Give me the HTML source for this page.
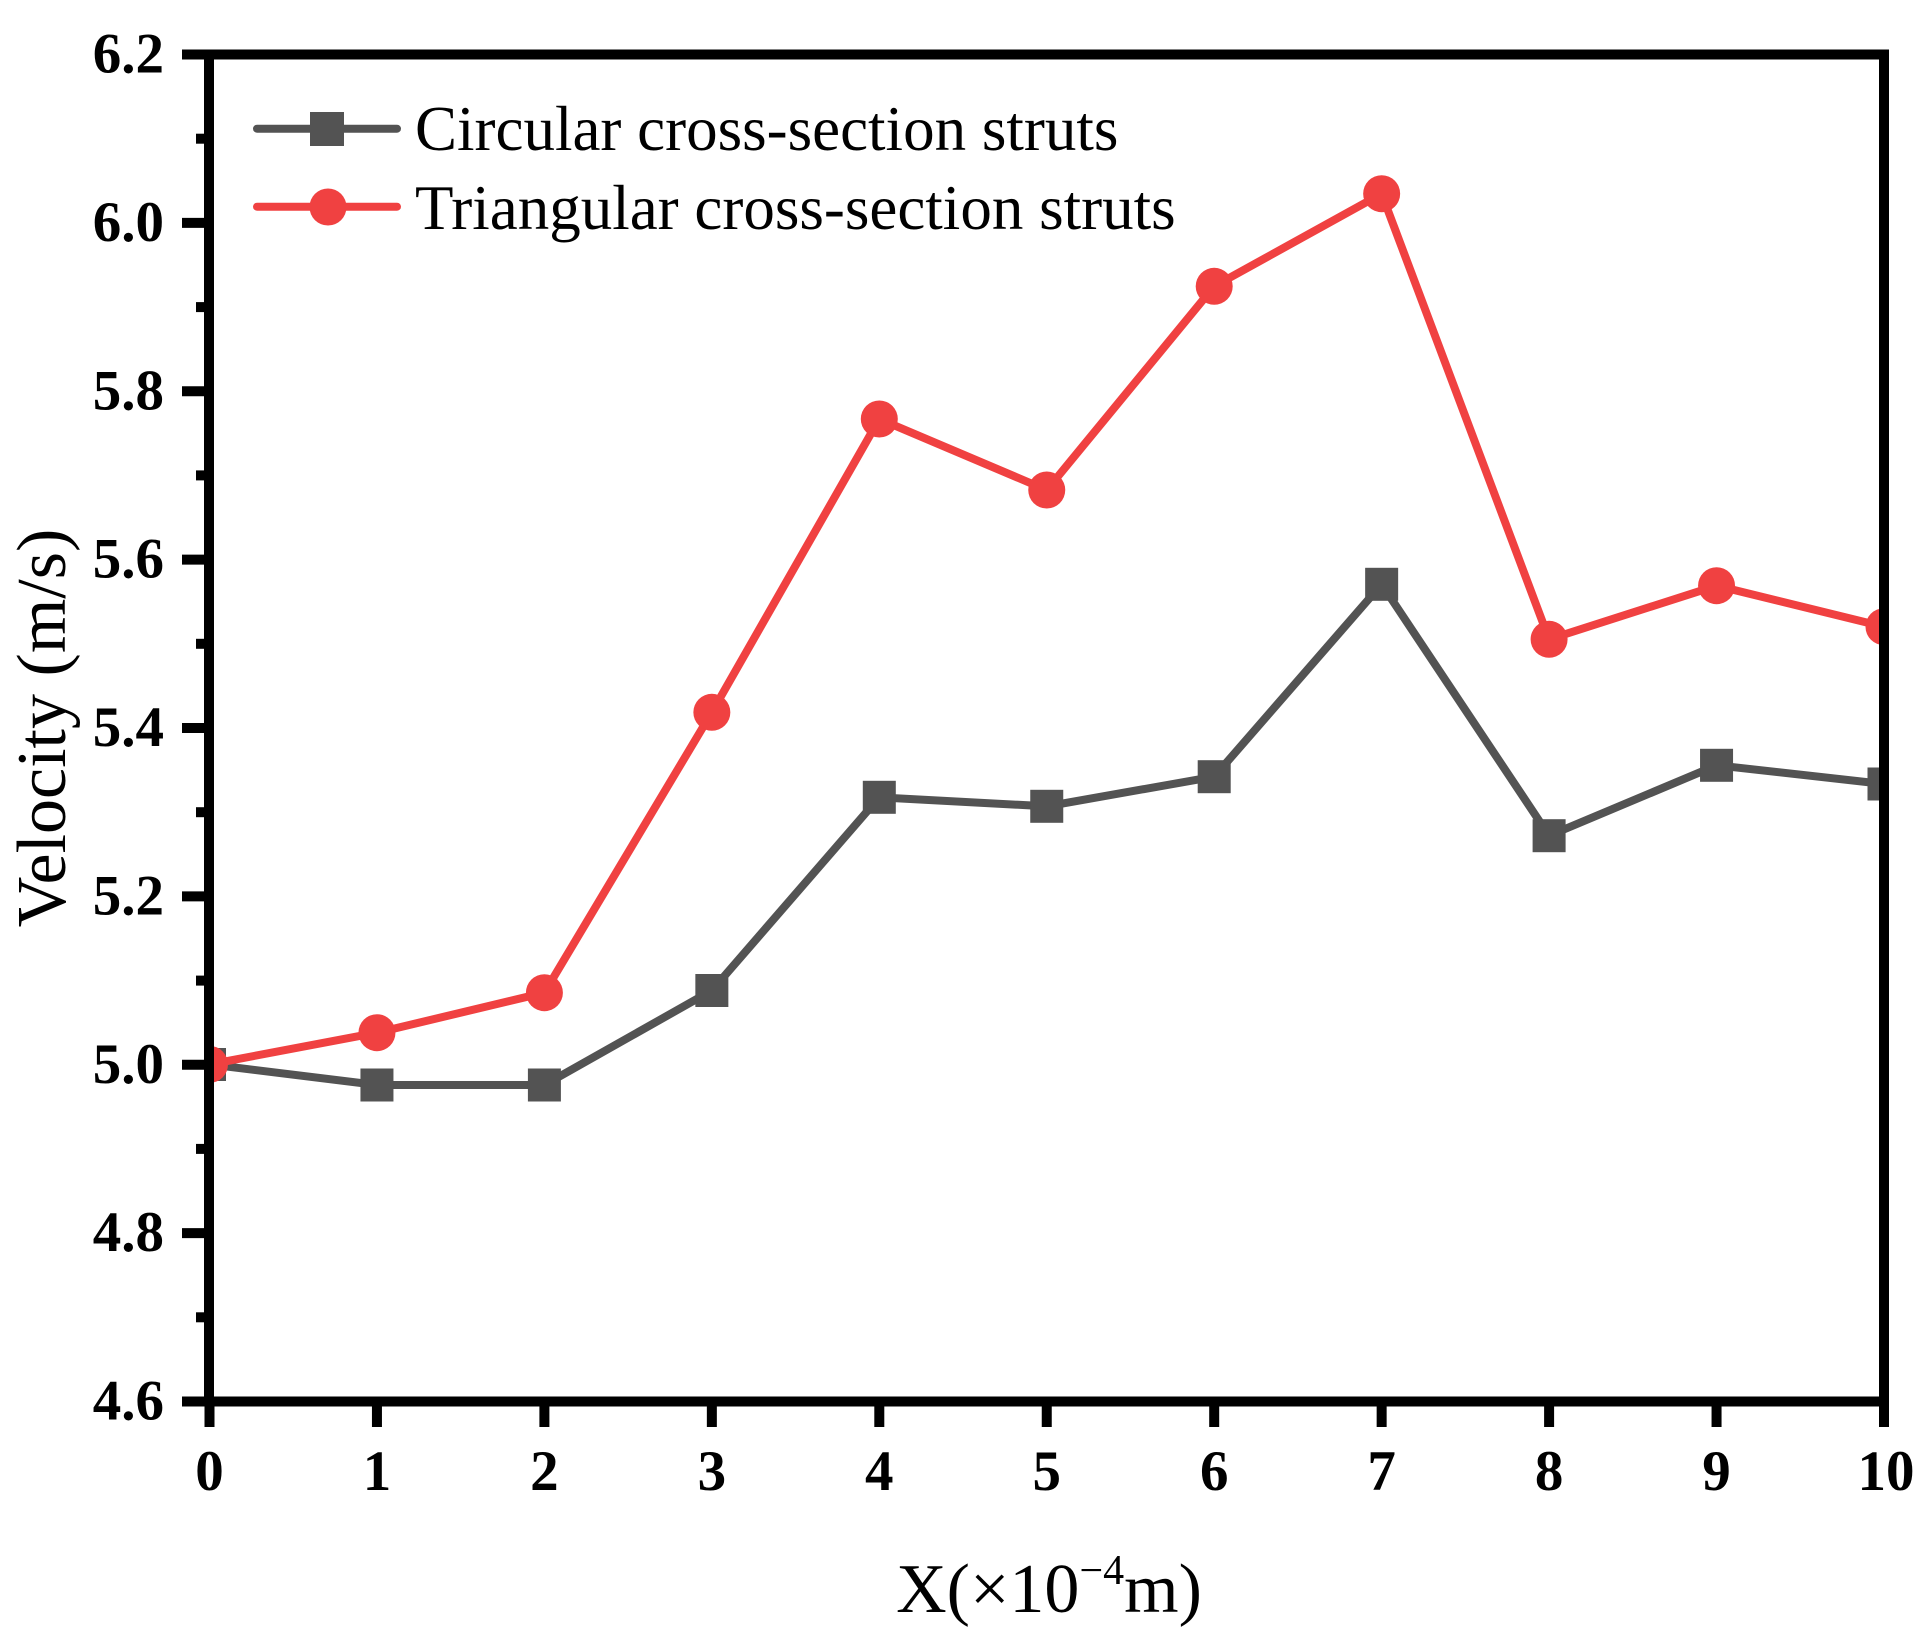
<!DOCTYPE html>
<html>
<head>
<meta charset="utf-8">
<style>
  html, body { margin: 0; padding: 0; background: #ffffff; }
  svg { display: block; }
  text { font-family: "Liberation Serif", "Times New Roman", serif; fill: #000; }
  .tick { font-weight: bold; font-size: 57px; }
</style>
</head>
<body>
<svg width="1930" height="1642" viewBox="0 0 1930 1642" xmlns="http://www.w3.org/2000/svg">
  <rect x="0" y="0" width="1930" height="1642" fill="#ffffff"/>
  <defs>
    <clipPath id="plot">
      <rect x="209" y="54.5" width="1675" height="1347"/>
    </clipPath>
  </defs>

  <!-- Data series -->
  <g clip-path="url(#plot)">
    <!-- Circular (gray squares) -->
    <polyline fill="none" stroke="#535353" stroke-width="8" stroke-linejoin="miter"
      points="209.5,1064.4 376.95,1085 544.4,1085 711.85,990.5 879.3,797.3 1046.75,806.3 1214.2,776.7 1381.65,584.3 1549.1,835.7 1716.55,765.3 1884,784"/>
    <g fill="#535353">
      <rect x="193" y="1048" width="33" height="33"/>
      <rect x="360.45" y="1068.5" width="33" height="33"/>
      <rect x="527.9" y="1068.5" width="33" height="33"/>
      <rect x="695.35" y="974" width="33" height="33"/>
      <rect x="862.8" y="780.8" width="33" height="33"/>
      <rect x="1030.25" y="789.8" width="33" height="33"/>
      <rect x="1197.7" y="760.2" width="33" height="33"/>
      <rect x="1365.15" y="567.8" width="33" height="33"/>
      <rect x="1532.6" y="819.2" width="33" height="33"/>
      <rect x="1700.05" y="748.8" width="33" height="33"/>
      <rect x="1867.5" y="767.5" width="33" height="33"/>
    </g>

    <!-- Triangular (red circles) -->
    <polyline fill="none" stroke="#F04141" stroke-width="8" stroke-linejoin="miter"
      points="209.5,1064.4 376.95,1032.7 544.4,992.7 711.85,712.3 879.3,419 1046.75,490 1214.2,286.3 1381.65,193.7 1549.1,639.3 1716.55,585.7 1884,626.7"/>
    <g fill="#F04141">
      <circle cx="209.5" cy="1064.4" r="18.5"/>
      <circle cx="376.95" cy="1032.7" r="18.5"/>
      <circle cx="544.4" cy="992.7" r="18.5"/>
      <circle cx="711.85" cy="712.3" r="18.5"/>
      <circle cx="879.3" cy="419" r="18.5"/>
      <circle cx="1046.75" cy="490" r="18.5"/>
      <circle cx="1214.2" cy="286.3" r="18.5"/>
      <circle cx="1381.65" cy="193.7" r="18.5"/>
      <circle cx="1549.1" cy="639.3" r="18.5"/>
      <circle cx="1716.55" cy="585.7" r="18.5"/>
      <circle cx="1884" cy="626.7" r="18.5"/>
    </g>
  </g>

  <!-- Frame -->
  <rect x="209" y="54.5" width="1675" height="1347" fill="none" stroke="#000" stroke-width="10"/>

  <!-- Ticks -->
  <g stroke="#000" stroke-width="10">
    <line x1="182" y1="54.5" x2="209" y2="54.5"/>
    <line x1="182" y1="222.9" x2="209" y2="222.9"/>
    <line x1="182" y1="391.25" x2="209" y2="391.25"/>
    <line x1="182" y1="559.6" x2="209" y2="559.6"/>
    <line x1="182" y1="728" x2="209" y2="728"/>
    <line x1="182" y1="896.4" x2="209" y2="896.4"/>
    <line x1="182" y1="1064.75" x2="209" y2="1064.75"/>
    <line x1="182" y1="1233.1" x2="209" y2="1233.1"/>
    <line x1="182" y1="1401.5" x2="209" y2="1401.5"/>
    <line x1="196" y1="138.7" x2="209" y2="138.7"/>
    <line x1="196" y1="307.1" x2="209" y2="307.1"/>
    <line x1="196" y1="475.4" x2="209" y2="475.4"/>
    <line x1="196" y1="643.8" x2="209" y2="643.8"/>
    <line x1="196" y1="812.2" x2="209" y2="812.2"/>
    <line x1="196" y1="980.6" x2="209" y2="980.6"/>
    <line x1="196" y1="1148.9" x2="209" y2="1148.9"/>
    <line x1="196" y1="1317.3" x2="209" y2="1317.3"/>
    <line x1="209.5" y1="1401.5" x2="209.5" y2="1427"/>
    <line x1="376.95" y1="1401.5" x2="376.95" y2="1427"/>
    <line x1="544.4" y1="1401.5" x2="544.4" y2="1427"/>
    <line x1="711.85" y1="1401.5" x2="711.85" y2="1427"/>
    <line x1="879.3" y1="1401.5" x2="879.3" y2="1427"/>
    <line x1="1046.75" y1="1401.5" x2="1046.75" y2="1427"/>
    <line x1="1214.2" y1="1401.5" x2="1214.2" y2="1427"/>
    <line x1="1381.65" y1="1401.5" x2="1381.65" y2="1427"/>
    <line x1="1549.1" y1="1401.5" x2="1549.1" y2="1427"/>
    <line x1="1716.55" y1="1401.5" x2="1716.55" y2="1427"/>
    <line x1="1884" y1="1401.5" x2="1884" y2="1427"/>
  </g>

  <!-- Y tick labels -->
  <g class="tick" text-anchor="end">
    <text x="164" y="72.5">6.2</text>
    <text x="164" y="240.9">6.0</text>
    <text x="164" y="409.25">5.8</text>
    <text x="164" y="577.6">5.6</text>
    <text x="164" y="746">5.4</text>
    <text x="164" y="914.4">5.2</text>
    <text x="164" y="1082.75">5.0</text>
    <text x="164" y="1251.1">4.8</text>
    <text x="164" y="1419.5">4.6</text>
  </g>

  <!-- X tick labels -->
  <g class="tick" text-anchor="middle">
    <text x="209.5" y="1490">0</text>
    <text x="376.95" y="1490">1</text>
    <text x="544.4" y="1490">2</text>
    <text x="711.85" y="1490">3</text>
    <text x="879.3" y="1490">4</text>
    <text x="1046.75" y="1490">5</text>
    <text x="1214.2" y="1490">6</text>
    <text x="1381.65" y="1490">7</text>
    <text x="1549.1" y="1490">8</text>
    <text x="1716.55" y="1490">9</text>
    <text x="1886" y="1490">10</text>
  </g>

  <!-- Axis titles -->
  <text x="1049" y="1612" text-anchor="middle" font-size="70">X(×10<tspan font-size="42" dy="-28">−4</tspan><tspan dy="28">m)</tspan></text>
  <text transform="translate(65,728) rotate(-90)" text-anchor="middle" font-size="70">Velocity (m/s)</text>

  <!-- Legend -->
  <line x1="257" y1="128.7" x2="397" y2="128.7" stroke="#535353" stroke-width="8" stroke-linecap="round"/>
  <rect x="310" y="112" width="34" height="34" fill="#535353"/>
  <text x="415" y="150" font-size="63">Circular cross-section struts</text>

  <line x1="257" y1="206.7" x2="397" y2="206.7" stroke="#F04141" stroke-width="8" stroke-linecap="round"/>
  <circle cx="328" cy="207" r="18.5" fill="#F04141"/>
  <text x="415" y="229" font-size="63">Triangular cross-section struts</text>
</svg>
</body>
</html>
